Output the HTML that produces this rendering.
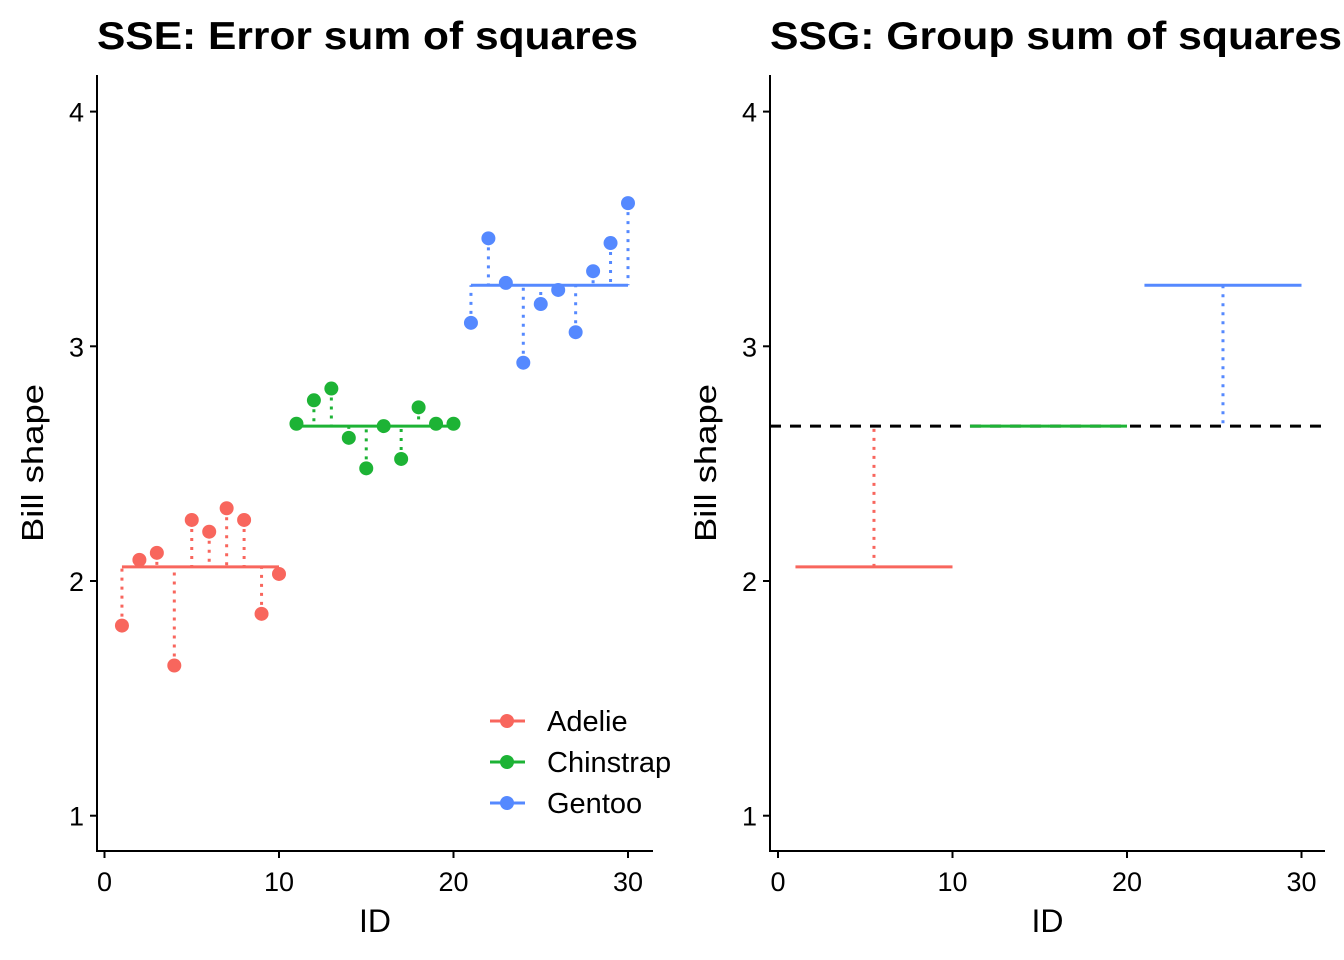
<!DOCTYPE html>
<html><head><meta charset="utf-8"><style>
body{margin:0;background:#fff}
svg{display:block;font-family:"Liberation Sans",Arial,sans-serif}
</style></head><body>
<svg id="c" width="1344" height="960"></svg>
<script>
const ids=[1,2,3,4,5,6,7,8,9,10,11,12,13,14,15,16,17,18,19,20,21,22,23,24,25,26,27,28,29,30];
const shapes=[1.81,2.09,2.12,1.64,2.26,2.21,2.31,2.26,1.86,2.03,2.67,2.77,2.82,2.61,2.48,2.66,2.52,2.74,2.67,2.67,3.10,3.46,3.27,2.93,3.18,3.24,3.06,3.32,3.44,3.61];
const species=["Adelie","Chinstrap","Gentoo"];
const speciesMeans=[2.06,2.66,3.26];
const grandMean=2.66;
const xTicks=[0,10,20,30];
const yTicks=[1,2,3,4];
const colors=["#F8665D","#1DB335","#5589FF"];
const NS="http://www.w3.org/2000/svg";
const svg=document.getElementById('c');
function mk(t,a,p){const e=document.createElementNS(NS,t);for(const k in a)e.setAttribute(k,a[k]);(p||svg).appendChild(e);return e;}
const Y=v=>581-(v-2)*234.7;
function panel(x0,axisX,right,title,tlen,name){
  const X=v=>x0+v*17.45;
  const g=mk('g',{});
  
  
  const t=mk('text',{x:axisX,y:49,'font-size':39,'font-weight':'bold',fill:'#000',textLength:tlen,lengthAdjust:'spacingAndGlyphs'},g);t.textContent=title;
  
  mk('line',{x1:axisX,y1:75,x2:axisX,y2:852,stroke:'#000','stroke-width':2},g);
  mk('line',{x1:axisX-1,y1:851,x2:right,y2:851,stroke:'#000','stroke-width':2},g);
  xTicks.forEach(v=>{mk('line',{x1:X(v),y1:851,x2:X(v),y2:858,stroke:'#000','stroke-width':2},g);
    const tt=mk('text',{x:X(v),y:891,'font-size':27,'text-anchor':'middle',fill:'#000'},g);tt.textContent=v;
    });
  yTicks.forEach(v=>{mk('line',{x1:axisX-7,y1:Y(v),x2:axisX,y2:Y(v),stroke:'#000','stroke-width':2},g);
    const tt=mk('text',{x:axisX-13,y:Y(v)+10,'font-size':27,'text-anchor':'end',fill:'#000'},g);tt.textContent=v;
    });
  const xl=mk('text',{x:(axisX+right)/2,y:932,'font-size':32,'text-anchor':'middle',fill:'#000'},g);xl.textContent='ID';
  
  const yl=mk('text',{x:0,y:0,'font-size':31,'text-anchor':'middle',fill:'#000',textLength:158,lengthAdjust:'spacingAndGlyphs',transform:`translate(${axisX-54},463) rotate(-90)`},g);yl.textContent='Bill shape';
  
  return {g,X};
}
// left
const L=panel(104.5,97,653,'SSE: Error sum of squares',541,'sse-panel');
species.forEach((s,k)=>{
  const a=k*10+1,b=k*10+10;
  const ln=mk('line',{x1:L.X(a),y1:Y(speciesMeans[k]),x2:L.X(b),y2:Y(speciesMeans[k]),stroke:colors[k],'stroke-width':3},L.g);
  
});
ids.forEach((id,i)=>{
  const k=Math.floor(i/10);
  mk('line',{x1:L.X(id),y1:Y(shapes[i]),x2:L.X(id),y2:Y(speciesMeans[k]),stroke:colors[k],'stroke-width':3,'stroke-dasharray':'3 6'},L.g);
  const c=mk('circle',{cx:L.X(id),cy:Y(shapes[i]),r:7,fill:colors[k]},L.g);
  
});
species.forEach((s,k)=>{
  const y=721+k*41;
  mk('line',{x1:490,y1:y,x2:525,y2:y,stroke:colors[k],'stroke-width':3},L.g);
  mk('circle',{cx:507,cy:y,r:7,fill:colors[k]},L.g);
  const t=mk('text',{x:547,y:y+10,'font-size':29,fill:'#000'},L.g);t.textContent=s;
  
});
// right
const R=panel(778,770,1325,'SSG: Group sum of squares',572,'ssg-panel');
const gl=mk('line',{x1:770,y1:Y(grandMean),x2:1325,y2:Y(grandMean),stroke:'#000','stroke-width':3,'stroke-dasharray':'11 9'},R.g);

species.forEach((s,k)=>{
  const a=k*10+1,b=k*10+10,m=k*10+5.5;
  mk('line',{x1:R.X(a),y1:Y(speciesMeans[k]),x2:R.X(b),y2:Y(speciesMeans[k]),stroke:colors[k],'stroke-width':3},R.g);
  mk('line',{x1:R.X(m),y1:Y(speciesMeans[k]),x2:R.X(m),y2:Y(grandMean),stroke:colors[k],'stroke-width':3,'stroke-dasharray':'3 6'},R.g);
});
</script>
</body></html>
